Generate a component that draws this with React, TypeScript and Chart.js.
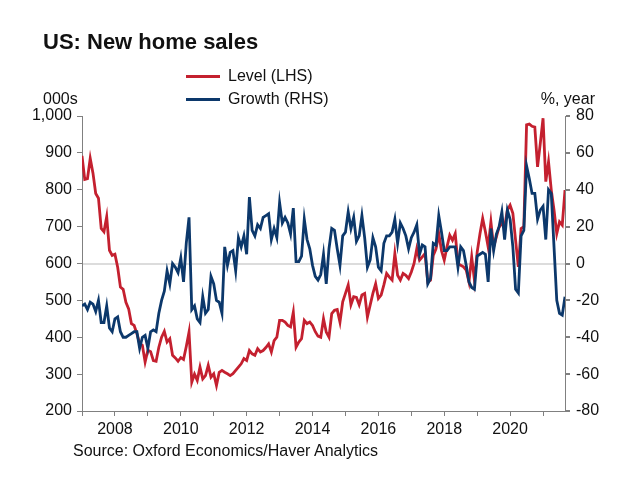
import React, { useEffect, useRef } from "react";
import { Chart, registerables } from "chart.js";

Chart.register(...registerables);

const START_YEAR = 2007;

// Monthly, Jan 2007 .. Sep 2021 (thousands, SAAR)
const levelLHS: number[] = [
  892, 828, 830, 885, 845, 790, 777, 695, 686, 727, 636, 622,
  625, 590, 536, 530, 495, 477, 437, 432, 410, 383, 378, 333,
  365, 361, 337, 335, 373, 400, 416, 387, 396, 351, 344, 335,
  345, 340, 375, 414, 278, 300, 283, 319, 287, 296, 324, 292,
  301, 269, 305, 310, 305, 301, 296, 301, 310, 319, 328, 342,
  337, 364, 355, 351, 369, 360, 364, 372, 382, 360, 391, 400,
  446, 446, 441, 432, 428, 468, 373, 387, 396, 446, 437, 441,
  432, 415, 403, 400, 450, 414, 400, 464, 473, 475, 441, 496,
  519, 542, 488, 510, 508, 488, 515, 519, 455, 487, 519, 545,
  505, 514, 542, 573, 563, 555, 627, 568, 555, 573, 568, 559,
  577, 600, 640, 609, 618, 627, 550, 555, 622, 640, 681, 635,
  609, 645, 677, 663, 681, 600, 595, 591, 582, 550, 618, 555,
  631, 680, 722, 686, 645, 713, 645, 672, 699, 708, 699, 745,
  758, 736, 663, 591, 695, 700, 976, 978, 972, 970, 862, 926,
  994, 822, 876, 799, 745, 681, 713, 704, 799,
];

// Year-on-year growth, %
const growthRHS: number[] = [
  -23, -22, -25, -21, -22, -26, -20, -32, -32, -23, -35, -37,
  -30, -29, -37, -40, -40, -39, -38, -37, -37, -46, -40, -39,
  -46, -37, -36, -37, -27, -20, -15, -4, -11, 0, -2, -5,
  3, -10, 11, 25, -25, -23, -30, -32, -18, -27, -25, -7,
  -11, -20, -21, -27, 9, -1, 6, 7, -4, 14, 9, 15,
  5, 36, 18, 15, 21, 19, 25, 26, 27, 13, 19, 14,
  33, 22, 25, 22, 16, 30, 1, 1, 4, 24, 13, 8,
  -1, -7, -9, -6, 5, -11, 8, 19, 18, 8, -1, 15,
  17, 28, 19, 25, 12, 15, 26, 14, -2, 2, 14, 9,
  -2, -4, 11, 15, 15, 17, 24, 11, 22, 19, 15, 8,
  14, 17, 21, 5, 10, 9, -11, -8, 11, 10, 26, 17,
  7, 7, 9, 9, 9, -2, 9, 7, -1, -10, -13, -14,
  4, 5, 6, 5, -10, 19, 7, 16, 20, 28, 13, 29,
  24, 9, -14, -16, 15, 18, 53, 46, 38, 38, 24, 29,
  31, 13, 40, 38, 9, -20, -27, -28, -18,
];

const leftTicks = { min: 200, max: 1000, step: 100 };
const rightTicks = { min: -80, max: 80, step: 20 };

const RED = "#C4202F";
const BLUE = "#0C386B";
const FONT = "'Liberation Sans', Arial, sans-serif";

export default function App() {
  const ref = useRef<HTMLCanvasElement | null>(null);

  useEffect(() => {
    document.body.style.margin = "0";
    const ctx = ref.current!.getContext("2d")!;
    const chart = new Chart(ctx, {
      type: "line",
      data: {
        datasets: [
          {
            label: "Growth (RHS)",
            data: growthRHS.map((v, i) => ({ x: i, y: v })),
            borderColor: BLUE,
            borderWidth: 2.8,
            pointRadius: 0,
            tension: 0,
            yAxisID: "yR",
            order: 1,
          },
          {
            label: "Level (LHS)",
            data: levelLHS.map((v, i) => ({ x: i, y: v })),
            borderColor: RED,
            borderWidth: 2.8,
            pointRadius: 0,
            tension: 0,
            yAxisID: "yL",
            order: 2,
          },
        ],
      },
      options: {
        animation: false,
        responsive: false,
        maintainAspectRatio: false,
        layout: { padding: { left: 0, right: 0, top: 116, bottom: 41 } },
        plugins: { legend: { display: false }, tooltip: { enabled: false } },
        scales: {
          x: {
            type: "linear",
            min: 0,
            max: levelLHS.length - 1,
            afterFit: (s: any) => { s.height = 40; },
            afterBuildTicks: (s: any) => {
              const t = [];
              for (let v = 0; v <= levelLHS.length - 1; v += 12) t.push({ value: v });
              s.ticks = t;
            },
            ticks: {
              autoSkip: false,
              maxRotation: 0,
              padding: 4,
              color: "#111",
              font: { family: FONT, size: 16 },
              callback: (v: any) => {
                const y = START_YEAR + Math.round(Number(v) / 12);
                return y % 2 === 0 ? String(y) : "";
              },
            },
            grid: { drawOnChartArea: false, tickLength: 5, tickColor: "#808080" },
            border: { color: "#808080", width: 1 },
          },
          yL: {
            position: "left",
            min: leftTicks.min,
            max: leftTicks.max,
            afterFit: (s: any) => { s.width = 82; },
            ticks: {
              stepSize: leftTicks.step,
              padding: 5,
              color: "#111",
              font: { family: FONT, size: 16 },
              callback: (v: any) => Number(v).toLocaleString("en-US"),
            },
            grid: { drawOnChartArea: false, tickLength: 5, tickColor: "#808080" },
            border: { color: "#808080", width: 1 },
          },
          yR: {
            position: "right",
            min: rightTicks.min,
            max: rightTicks.max,
            afterFit: (s: any) => { s.width = 65; },
            ticks: {
              stepSize: rightTicks.step,
              padding: 6,
              color: "#111",
              font: { family: FONT, size: 16 },
            },
            grid: {
              drawOnChartArea: true,
              tickLength: 5,
              tickColor: "#808080",
              color: (c: any) => (c.tick && c.tick.value === 0 ? "#dcdcdc" : "rgba(0,0,0,0)"),
              lineWidth: 2,
            },
            border: { color: "#808080", width: 1 },
          },
        },
      },
    });
    return () => chart.destroy();
  }, []);

  const txt: React.CSSProperties = { position: "absolute", fontFamily: FONT, color: "#111", whiteSpace: "nowrap" };

  return (
    <div style={{ position: "relative", width: 630, height: 492, background: "#fff", overflow: "hidden" }}>
      <canvas ref={ref} width={630} height={492} style={{ position: "absolute", left: 0, top: 0 }} />
      <div style={{ ...txt, left: 43, top: 29, fontSize: 22, fontWeight: "bold" }}>US: New home sales</div>
      <div style={{ ...txt, left: 186, top: 67, fontSize: 16, display: "flex", alignItems: "center" }}>
        <span style={{ display: "inline-block", width: 34, height: 3, background: RED, marginRight: 8 }} />
        Level (LHS)
      </div>
      <div style={{ ...txt, left: 186, top: 90, fontSize: 16, display: "flex", alignItems: "center" }}>
        <span style={{ display: "inline-block", width: 34, height: 3, background: BLUE, marginRight: 8 }} />
        Growth (RHS)
      </div>
      <div style={{ ...txt, left: 43, top: 90, fontSize: 16 }}>000s</div>
      <div style={{ ...txt, right: 35, top: 90, fontSize: 16 }}>%, year</div>
      <div style={{ ...txt, left: 73, top: 442, fontSize: 16 }}>Source: Oxford Economics/Haver Analytics</div>
    </div>
  );
}
